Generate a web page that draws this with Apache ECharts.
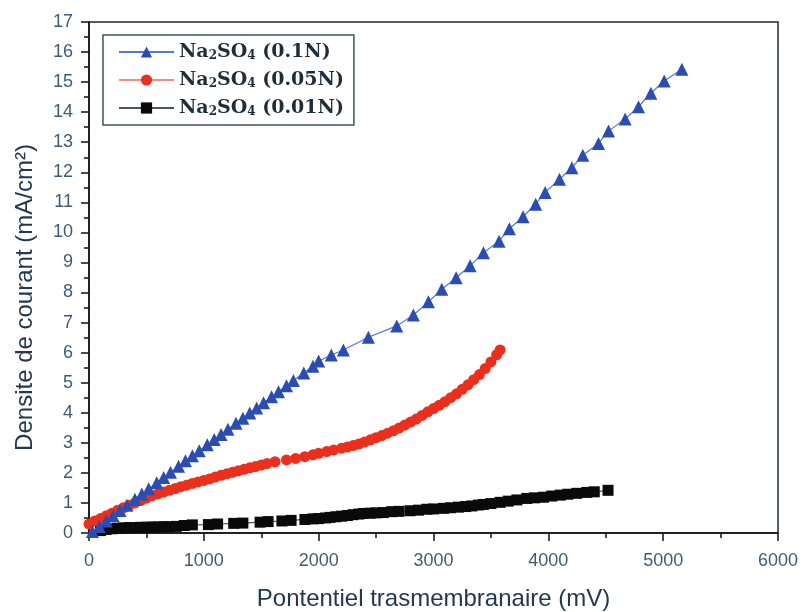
<!DOCTYPE html>
<html>
<head>
<meta charset="utf-8">
<script src="https://cdn.jsdelivr.net/npm/echarts@6/dist/echarts.min.js"></script>
<style>
html,body{margin:0;padding:0;background:#fff;}
#chart{width:803px;height:612px;}
</style>
</head>
<body>
<div id="chart"></div>
<script>
// ---- Data ----
const seriesNames = ['Na2SO4 (0.1N)', 'Na2SO4 (0.05N)', 'Na2SO4 (0.01N)'];
const legendLabels = ['Na{s|2}SO{s|4} (0.1N)', 'Na{s|2}SO{s|4} (0.05N)', 'Na{s|2}SO{s|4} (0.01N)'];

const xBlue = [30, 90, 150, 210, 270, 330, 400, 460, 520, 590, 650, 710, 780, 840, 900, 960, 1030, 1090, 1150, 1210, 1280, 1340, 1400, 1460, 1520, 1590, 1650, 1720, 1780, 1870, 1950,
  2000, 2110, 2215, 2433, 2680, 2825, 2956, 3072, 3197, 3319, 3435, 3571, 3661, 3780, 3890, 3972, 4097, 4205, 4300, 4437, 4524, 4669, 4785, 4893, 5009, 5163];
const yBlue = [0.05, 0.22, 0.40, 0.57, 0.75, 0.92, 1.12, 1.30, 1.47, 1.67, 1.85, 2.02, 2.22, 2.40, 2.57, 2.74, 2.94, 3.11, 3.28, 3.45, 3.65, 3.82, 3.99, 4.16, 4.33, 4.53, 4.70, 4.90, 5.07, 5.32, 5.55,
  5.72, 5.92, 6.09, 6.51, 6.89, 7.25, 7.69, 8.11, 8.49, 8.89, 9.32, 9.71, 10.12, 10.52, 10.94, 11.33, 11.77, 12.15, 12.57, 12.96, 13.37, 13.77, 14.18, 14.63, 15.04, 15.43];

const xRed = [0, 50, 100, 150, 200, 250, 300, 350, 400, 450, 500, 550, 600, 650, 700, 750, 800, 850, 900, 950, 1000, 1050, 1100, 1150, 1200, 1250, 1300, 1350, 1400, 1450, 1500, 1550,
  1620, 1720, 1800, 1880, 1950, 2000, 2070, 2130,
  2200, 2250, 2300, 2350, 2400, 2450, 2500, 2550, 2600, 2650, 2700, 2750, 2800, 2850, 2900, 2950, 3000, 3050, 3100, 3150, 3200, 3250, 3300, 3350, 3400, 3450, 3500, 3550, 3580];
const yRed = [0.30, 0.40, 0.48, 0.57, 0.66, 0.76, 0.84, 0.92, 1.00, 1.08, 1.16, 1.24, 1.30, 1.36, 1.42, 1.48, 1.54, 1.59, 1.65, 1.70, 1.75, 1.80, 1.86, 1.92, 1.97, 2.02, 2.07, 2.12, 2.17, 2.21, 2.26, 2.31,
  2.37, 2.43, 2.48, 2.54, 2.60, 2.65, 2.71, 2.76,
  2.82, 2.86, 2.91, 2.96, 3.03, 3.10, 3.17, 3.24, 3.32, 3.40, 3.49, 3.59, 3.69, 3.79, 3.91, 4.03, 4.14, 4.25, 4.37, 4.50, 4.63, 4.78, 4.93, 5.10, 5.27, 5.47, 5.69, 5.93, 6.09];

const xBlack = [100, 150, 200, 250, 300, 350, 400, 450, 500, 550, 600, 650, 700, 760, 830, 900, 1040, 1120, 1260, 1340, 1490, 1560, 1680, 1760, 1880, 1950, 2000, 2060, 2100, 2150, 2200, 2250, 2300, 2350, 2390, 2450, 2500,
  2564, 2637, 2700, 2796, 2870, 2942, 3000, 3087, 3150, 3217, 3280, 3334, 3390, 3435, 3500, 3580, 3650, 3726, 3813, 3880, 3958, 4030, 4103, 4170, 4248, 4335, 4400, 4520];
const yBlack = [0.08, 0.12, 0.14, 0.16, 0.17, 0.18, 0.18, 0.19, 0.19, 0.20, 0.20, 0.21, 0.21, 0.22, 0.25, 0.27, 0.28, 0.30, 0.32, 0.33, 0.36, 0.38, 0.40, 0.42, 0.45, 0.47, 0.48, 0.50, 0.52, 0.54, 0.56, 0.58, 0.61, 0.63, 0.65, 0.66, 0.67,
  0.68, 0.71, 0.72, 0.74, 0.76, 0.79, 0.80, 0.82, 0.84, 0.86, 0.88, 0.90, 0.93, 0.95, 0.98, 1.02, 1.06, 1.10, 1.15, 1.17, 1.19, 1.23, 1.26, 1.29, 1.32, 1.35, 1.37, 1.42];

const xTicks = { min: 0, max: 6000, interval: 1000, minorInterval: 500 };
const yTicks = { min: 0, max: 17, interval: 1, minorInterval: 0.5 };

function zip(xs, ys) { return xs.map((x, i) => [x, ys[i]]); }

const chart = echarts.init(document.getElementById('chart'), null, { renderer: 'canvas' });
const labelColor = '#3d5c78';
const titleColor = '#24384f';
const sans = 'Liberation Sans, Arial, sans-serif';
const serif = 'DejaVu Serif, Liberation Serif, serif';
const tickLine = { color: '#111', width: 1.5 };

function minorAxis(t, pos) {
  return {
    type: 'value', position: pos, offset: 0, min: t.min, max: t.max, interval: t.minorInterval,
    axisLine: { show: false }, axisLabel: { show: false }, splitLine: { show: false },
    axisTick: { show: true, inside: false, length: 5, lineStyle: tickLine }
  };
}

chart.setOption({
  backgroundColor: '#fff',
  animation: false,
  grid: { left: 89, right: 25, top: 22, bottom: 79, show: true, borderColor: '#1e2a30', borderWidth: 1.5, containLabel: false, outerBoundsMode: 'none' },
  legend: {
    orient: 'vertical',
    left: 103, top: 35,
    padding: [7, 10, 7, 15],
    itemWidth: 55, itemHeight: 14, itemGap: 8,
    borderColor: '#3a5560', borderWidth: 1.5,
    data: seriesNames,
    formatter: function (name) { return legendLabels[seriesNames.indexOf(name)]; },
    textStyle: {
      fontFamily: serif, fontWeight: 'bold', fontSize: 19, color: '#1f2d3a', lineHeight: 20,
      rich: { s: { fontFamily: serif, fontWeight: 'bold', fontSize: 12, color: '#1f2d3a', lineHeight: 20, padding: [7, 0, 0, 0] } }
    }
  },
  xAxis: [{
    type: 'value', position: 'bottom', min: xTicks.min, max: xTicks.max, interval: xTicks.interval,
    name: 'Pontentiel trasmembranaire (mV)', nameLocation: 'middle', nameGap: 54,
    nameTextStyle: { fontFamily: sans, fontSize: 24, color: titleColor },
    axisLine: { lineStyle: { color: '#111', width: 1.5 } },
    axisTick: { inside: false, length: 8, lineStyle: tickLine },
    axisLabel: { fontFamily: sans, fontSize: 18, color: labelColor, margin: 19, formatter: function (v) { return String(v); } },
    splitLine: { show: false }
  }, minorAxis(xTicks, 'bottom')],
  yAxis: [{
    type: 'value', position: 'left', min: yTicks.min, max: yTicks.max, interval: yTicks.interval,
    name: 'Densite de courant (mA/cm²)', nameLocation: 'middle', nameGap: 52,
    nameTextStyle: { fontFamily: sans, fontSize: 24, color: titleColor, padding: [0, 40, 0, 0] },
    axisLine: { lineStyle: { color: '#111', width: 1.5 } },
    axisTick: { inside: false, length: 8, lineStyle: tickLine },
    axisLabel: { fontFamily: sans, fontSize: 18, color: labelColor, margin: 16 },
    splitLine: { show: false }
  }, minorAxis(yTicks, 'left')],
  series: [
    {
      name: seriesNames[0], type: 'line', data: zip(xBlue, yBlue),
      xAxisIndex: 0, yAxisIndex: 0,
      symbol: 'triangle', symbolSize: 13,
      itemStyle: { color: '#2b4db3' },
      lineStyle: { color: '#4f7ad6', width: 1.2 },
      z: 3
    },
    {
      name: seriesNames[1], type: 'line', data: zip(xRed, yRed),
      xAxisIndex: 0, yAxisIndex: 0,
      symbol: 'circle', symbolSize: 11,
      itemStyle: { color: '#ec2f1c' },
      lineStyle: { color: '#f28c84', width: 1.2 },
      z: 2
    },
    {
      name: seriesNames[2], type: 'line', data: zip(xBlack, yBlack),
      xAxisIndex: 0, yAxisIndex: 0,
      symbol: 'rect', symbolSize: 11,
      itemStyle: { color: '#0a0a0a' },
      lineStyle: { color: '#4a5a5a', width: 1.2 },
      z: 1
    }
  ]
});
</script>
</body>
</html>
